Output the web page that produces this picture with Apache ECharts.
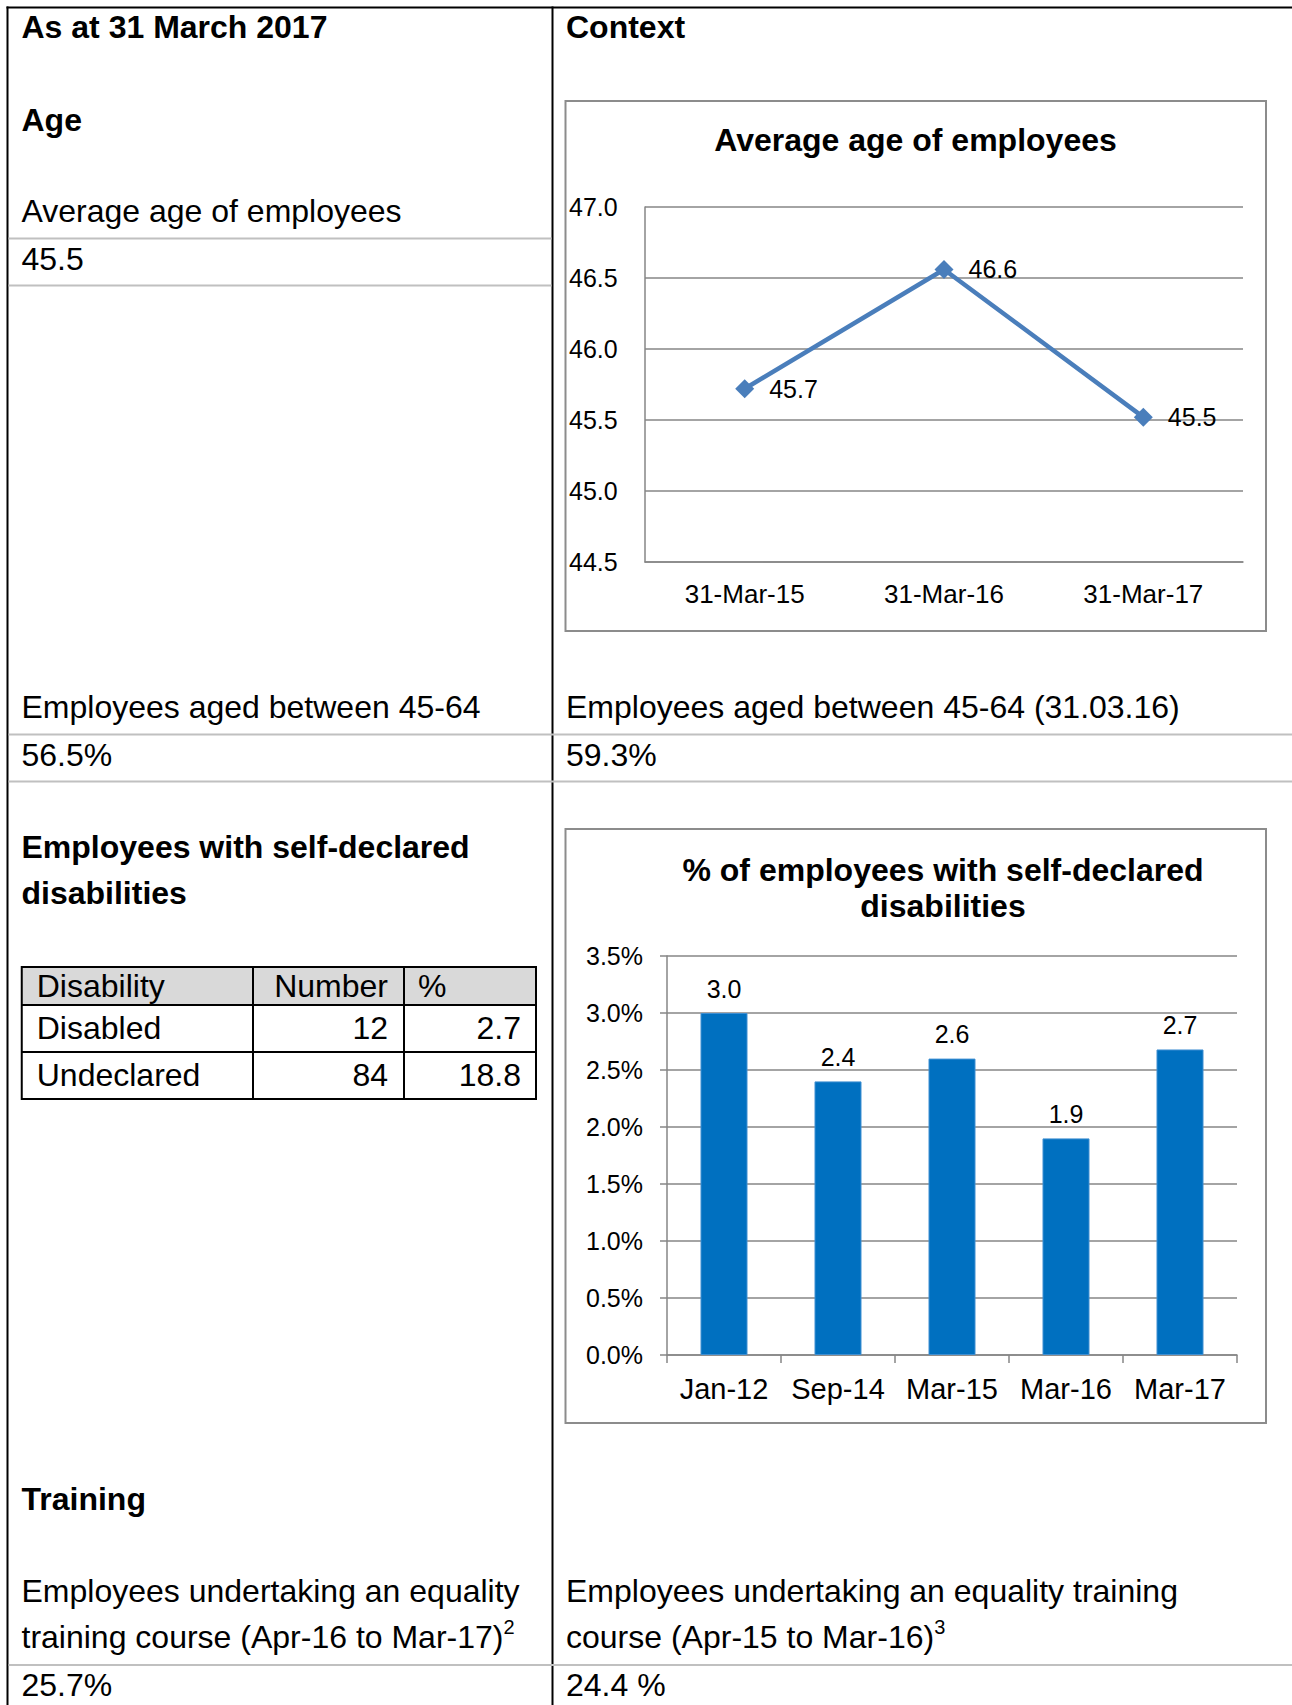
<!DOCTYPE html>
<html><head><meta charset="utf-8">
<script src="https://cdn.jsdelivr.net/npm/echarts/dist/echarts.min.js"></script>
<style>html,body{margin:0;padding:0;background:#fff}#c{width:1292px;height:1705px}</style>
</head><body><div id="c"></div>
<script>
// ---- data ----
const ageDates = ['31-Mar-15', '31-Mar-16', '31-Mar-17'];
const avgAge = [45.72, 46.56, 45.52];
const disabilityPeriods = ['Jan-12', 'Sep-14', 'Mar-15', 'Mar-16', 'Mar-17'];
const disabilityPct = [3.0, 2.4, 2.6, 1.9, 2.68];
const tableHeader = ['Disability', 'Number', '%'];
const tableRowLabels = ['Disabled', 'Undeclared'];
const tableNumbers = ['12', '84'];
const tablePercents = ['2.7', '18.8'];
const avgAgeNow = '45.5';
const aged4564Now = '56.5%';
const aged4564Prev = '59.3%';
const trainingNow = '25.7%';
const trainingPrev = '24.4 %';

// ---- helpers ----
const FF = '"Liberation Sans", Arial, Helvetica, sans-serif';
function txt(x, y, s, o) {
  o = o || {};
  const st = {
    x: x, y: y, text: s, fill: '#000', fontFamily: FF,
    fontSize: o.size || 32, fontWeight: o.bold ? 'bold' : 'normal',
    textAlign: o.align || 'left', textVerticalAlign: 'middle',
    lineHeight: o.lh
  };
  if (o.rich) st.rich = o.rich;
  return { type: 'text', silent: true, z: 10, style: st };
}
function ln(x1, y1, x2, y2, color, w) {
  return { type: 'line', silent: true, z: 5, shape: { x1: x1, y1: y1, x2: x2, y2: y2 }, style: { stroke: color, lineWidth: w } };
}
function box(x, y, w, h, stroke, lw, fill, z) {
  return { type: 'rect', silent: true, z: z || 1, shape: { x: x, y: y, width: w, height: h }, style: { fill: fill || 'none', stroke: stroke || 'none', lineWidth: lw || 0 } };
}
function supText(x, y, main, sup) {
  return txt(x, y, '{a|' + main + '}{s|' + sup + '}', {
    rich: {
      a: { fontSize: 32, fontFamily: FF, fill: '#000', lineHeight: 40 },
      s: { fontSize: 20, fontFamily: FF, fill: '#000', lineHeight: 16, verticalAlign: 'top', textVerticalAlign: 'top' }
    }
  });
}

const LX = 21.5, RX = 566;
const G = [];
// document frame
G.push(ln(6.5, 7.5, 1292, 7.5, '#000', 2));
G.push(ln(7.5, 6.5, 7.5, 1705, '#000', 2));
G.push(ln(552.5, 6.5, 552.5, 1705, '#000', 2));
const GREY = '#c0c0c0';
G.push(ln(8.5, 238.5, 551.5, 238.5, GREY, 2));
G.push(ln(8.5, 285.5, 551.5, 285.5, GREY, 2));
G.push(ln(8.5, 734.5, 1292, 734.5, GREY, 2));
G.push(ln(8.5, 781.5, 1292, 781.5, GREY, 2));
G.push(ln(8.5, 1665, 1292, 1665, GREY, 2));

// document text
G.push(txt(LX, 27, 'As at 31 March 2017', { bold: true }));
G.push(txt(RX, 27, 'Context', { bold: true }));
G.push(txt(LX, 119.5, 'Age', { bold: true }));
G.push(txt(LX, 211, 'Average age of employees'));
G.push(txt(LX, 259, avgAgeNow));
G.push(txt(LX, 707, 'Employees aged between 45-64'));
G.push(txt(RX, 707, 'Employees aged between 45-64 (31.03.16)'));
G.push(txt(LX, 755, aged4564Now));
G.push(txt(RX, 755, aged4564Prev));
G.push(txt(LX, 847, 'Employees with self-declared', { bold: true }));
G.push(txt(LX, 893, 'disabilities', { bold: true }));
G.push(txt(LX, 1499, 'Training', { bold: true }));
G.push(txt(LX, 1591, 'Employees undertaking an equality'));
G.push(supText(LX, 1637, 'training course (Apr-16 to Mar-17)', '2'));
G.push(txt(RX, 1591, 'Employees undertaking an equality training'));
G.push(supText(RX, 1637, 'course (Apr-15 to Mar-16)', '3'));
G.push(txt(LX, 1685, trainingNow));
G.push(txt(RX, 1685, trainingPrev));

// disability table
const tx = [21.75, 253, 404, 536], ty = [967, 1005, 1052, 1099];
G.push(box(tx[0], ty[0], tx[3] - tx[0], ty[1] - ty[0], 'none', 0, '#d9d9d9', 2));
G.push(box(tx[0], ty[0], tx[3] - tx[0], ty[3] - ty[0], '#000', 2, 'none', 6));
G.push(ln(tx[0], ty[1], tx[3], ty[1], '#000', 2));
G.push(ln(tx[0], ty[2], tx[3], ty[2], '#000', 2));
G.push(ln(tx[1], ty[0], tx[1], ty[3], '#000', 2));
G.push(ln(tx[2], ty[0], tx[2], ty[3], '#000', 2));
G.push(txt(tx[0] + 15, 986, tableHeader[0]));
G.push(txt(tx[2] - 16, 986, tableHeader[1], { align: 'right' }));
G.push(txt(tx[2] + 14, 986, tableHeader[2]));
tableRowLabels.forEach(function (lab, i) {
  const cy = (ty[i + 1] + ty[i + 2]) / 2 - 1;
  G.push(txt(tx[0] + 15, cy, lab));
  G.push(txt(tx[2] - 16, cy, tableNumbers[i], { align: 'right' }));
  G.push(txt(tx[3] - 15, cy, tablePercents[i], { align: 'right' }));
});

// chart boxes and titles
G.push(box(565.5, 101, 700.5, 530, '#8c8c8c', 2, 'none', 1));
G.push(box(565.5, 829, 700.5, 594, '#8c8c8c', 2, 'none', 1));
G.push(txt(915.5, 140, 'Average age of employees', { bold: true, size: 32, align: 'center' }));
G.push(txt(943, 888, '% of employees with self-declared\ndisabilities', { bold: true, size: 32, align: 'center', lh: 36 }));

const AX = '#868686';
const option = {
  animation: false,
  backgroundColor: '#fff',
  textStyle: { fontFamily: FF },
  grid: [
    { left: 645, top: 207, width: 598, height: 355 },
    { left: 667, top: 956, width: 570, height: 399 }
  ],
  xAxis: [
    { gridIndex: 0, type: 'category', data: ageDates, boundaryGap: true,
      axisLine: { show: true, lineStyle: { color: AX, width: 1.5 } },
      axisTick: { show: false },
      axisLabel: { color: '#000', fontSize: 26, margin: 19, fontFamily: FF } },
    { gridIndex: 1, type: 'category', data: disabilityPeriods, boundaryGap: true,
      axisLine: { show: true, lineStyle: { color: AX, width: 1.5 } },
      axisTick: { show: true, length: 8, interval: 0, lineStyle: { color: AX, width: 1.5 } },
      axisLabel: { color: '#000', fontSize: 29, margin: 19, interval: 0, fontFamily: FF } }
  ],
  yAxis: [
    { gridIndex: 0, type: 'value', min: 44.5, max: 47, interval: 0.5,
      axisLine: { show: true, lineStyle: { color: AX, width: 1.5 } },
      axisTick: { show: false },
      splitLine: { show: true, lineStyle: { color: AX, width: 1.5 } },
      axisLabel: { color: '#000', fontSize: 25, align: 'left', margin: 76, fontFamily: FF,
        formatter: function (v) { return v.toFixed(1); } } },
    { gridIndex: 1, type: 'value', min: 0, max: 3.5, interval: 0.5,
      axisLine: { show: true, lineStyle: { color: AX, width: 1.5 } },
      axisTick: { show: true, length: 7, lineStyle: { color: AX, width: 1.5 } },
      splitLine: { show: true, lineStyle: { color: AX, width: 1.5 } },
      axisLabel: { color: '#000', fontSize: 25, margin: 24, fontFamily: FF,
        formatter: function (v) { return v.toFixed(1) + '%'; } } }
  ],
  series: [
    { type: 'line', xAxisIndex: 0, yAxisIndex: 0, data: avgAge,
      symbol: 'diamond', symbolSize: 19,
      lineStyle: { color: '#4a7ebb', width: 4.5 },
      itemStyle: { color: '#4a7ebb' },
      label: { show: true, position: 'right', distance: 15, color: '#000', fontSize: 25, fontFamily: FF,
        formatter: function (p) { return p.value.toFixed(1); } } },
    { type: 'bar', xAxisIndex: 1, yAxisIndex: 1, data: disabilityPct, barWidth: 47,
      itemStyle: { color: '#0070c0', borderColor: '#3f8fd2', borderWidth: 1 },
      label: { show: true, position: 'top', distance: 12, color: '#000', fontSize: 25, fontFamily: FF,
        formatter: function (p) { return p.value.toFixed(1); } } }
  ],
  graphic: { elements: G }
};
const chart = echarts.init(document.getElementById('c'), null, { renderer: 'svg', width: 1292, height: 1705 });
chart.setOption(option);
</script>
</body></html>
